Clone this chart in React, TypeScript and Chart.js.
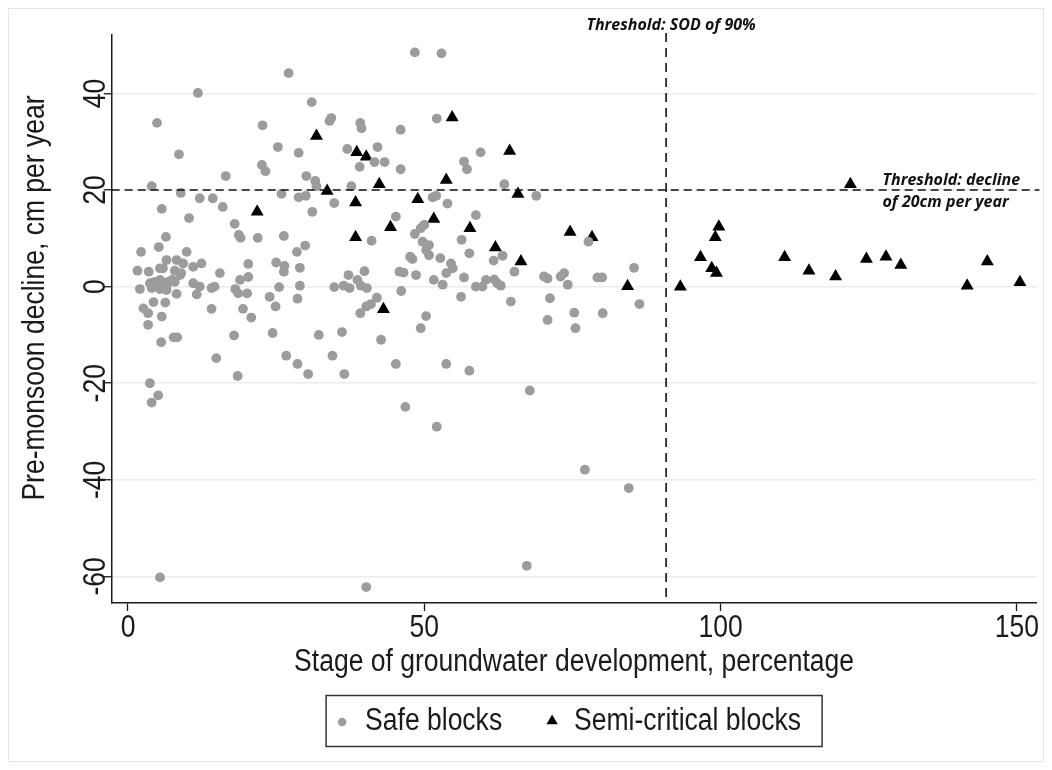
import React, { useEffect, useRef } from 'react';
import { Chart, registerables } from 'chart.js';

Chart.register(...registerables);

// [stage of groundwater development %, pre-monsoon decline cm/yr]
const safeBlocks: [number, number][] = [
  [48.4, 48.5], [52.9, 48.3], [27.1, 44.2], [11.8, 40.1], [31.0, 38.2], [4.9, 33.9], [22.7, 33.4], [34.0, 34.3],
  [34.3, 34.9], [39.2, 33.9], [39.4, 32.8], [46.0, 32.5], [52.1, 34.8], [25.3, 28.9], [28.8, 27.7], [8.6, 27.4],
  [37.0, 28.5], [42.1, 28.9], [41.6, 25.8], [43.3, 25.8], [39.1, 24.8], [46.0, 24.3], [22.6, 25.2], [23.2, 23.9],
  [56.7, 25.9], [57.2, 24.3], [59.5, 27.8], [16.5, 22.9], [30.1, 22.9], [31.6, 21.9], [31.8, 20.8], [4.0, 20.8],
  [37.7, 20.8], [63.5, 21.2], [8.9, 19.4], [12.1, 18.3], [14.3, 18.3], [25.9, 19.2], [28.8, 18.5], [30.0, 18.8],
  [34.8, 17.3], [68.9, 18.8], [51.4, 18.5], [52.0, 18.8], [53.9, 17.2], [16.0, 16.5], [5.7, 16.1], [31.1, 15.5],
  [10.3, 14.2], [58.7, 14.8], [45.2, 14.5], [18.0, 13.0], [18.7, 10.7], [19.0, 10.1], [21.9, 10.1], [26.3, 10.5],
  [6.4, 10.3], [5.2, 8.2], [2.2, 7.2], [9.9, 7.2], [28.5, 7.2], [29.9, 8.5], [41.1, 9.5], [48.4, 10.9],
  [49.4, 12.1], [50.0, 12.8], [49.7, 9.3], [50.8, 8.6], [50.3, 7.6], [50.8, 6.5], [47.6, 6.2], [48.0, 5.7],
  [52.7, 5.9], [54.5, 4.8], [54.8, 3.8], [56.3, 9.7], [57.6, 6.9], [61.7, 5.4], [63.2, 6.4], [65.2, 3.1],
  [77.7, 9.3], [85.4, 3.9], [46.5, 2.9], [37.2, 2.4], [39.9, 3.2], [38.7, 1.4], [39.3, 0.2], [40.3, -0.3],
  [34.8, -0.1], [36.4, 0.2], [37.4, -0.3], [25.0, 5.0], [26.4, 4.3], [26.3, 3.1], [29.0, 3.9], [25.5, -0.1],
  [29.0, 0.2], [23.9, -2.1], [24.9, -4.1], [28.6, -2.5], [46.1, -0.9], [42.0, -2.3], [41.0, -3.6], [40.2, -4.1],
  [39.2, -5.5], [48.6, 2.4], [51.6, 1.4], [53.1, 0.4], [53.7, 2.8], [56.7, 1.9], [58.7, 0.0], [59.8, 0.0],
  [60.4, 1.4], [61.8, 1.5], [62.3, 0.7], [62.9, 0.2], [56.2, -2.1], [64.6, -3.1], [70.2, 2.1], [70.8, 1.7],
  [73.6, 2.8], [73.0, 2.1], [74.2, 0.4], [79.2, 1.9], [80.0, 1.9], [71.2, -2.4], [70.8, -6.9], [75.3, -5.4],
  [80.1, -5.5], [75.5, -8.6], [86.3, -3.6], [50.3, -6.1], [49.4, -8.6], [42.7, -11.0], [45.2, -16.0], [46.8, -24.9],
  [52.1, -29.0], [53.7, -16.0], [57.6, -17.4], [67.8, -21.5], [67.3, -57.8], [77.1, -37.9], [84.5, -41.7], [40.2, -62.2],
  [5.4, -60.2], [2.0, -0.5], [4.3, -3.2], [6.3, -3.3], [8.2, -1.5], [2.6, -4.5], [3.4, -5.5], [3.4, -7.9],
  [5.7, -6.2], [5.6, -11.5], [7.7, -10.5], [8.3, -10.5], [14.1, -4.6], [14.9, -14.8], [17.9, -10.1], [18.5, -18.5],
  [19.4, -4.6], [20.8, -6.4], [24.4, -9.6], [26.7, -14.3], [28.6, -16.0], [30.4, -18.1], [32.2, -10.0], [34.5, -14.3],
  [36.1, -9.4], [36.5, -18.1], [3.7, -20.0], [5.1, -22.5], [4.0, -24.0], [1.6, 3.3], [3.5, 3.1], [3.7, 0.7],
  [4.8, 0.7], [5.4, 1.4], [6.5, 5.5], [8.2, 5.5], [9.3, 4.8], [5.9, 3.8], [5.4, 3.8], [8.8, 2.4],
  [11.0, 4.1], [12.4, 4.8], [11.0, 0.7], [12.1, 0.0], [11.6, -1.6], [6.5, 0.0], [7.4, 1.4], [14.6, 0.0],
  [14.1, -0.3], [15.5, 2.8], [18.1, -0.5], [18.6, -1.4], [18.9, 1.4], [20.3, 2.0], [20.1, -1.4], [20.3, 4.7],
  [45.8, 3.1], [7.9, 3.3], [9.0, 2.8], [4.5, 1.0], [5.7, 1.0], [6.8, 1.0], [7.9, 1.0], [4.0, -0.3],
  [5.4, -0.5], [6.5, -0.7],
];

const semiCriticalBlocks: [number, number][] = [
  [21.8, 15.5], [31.8, 31.2], [38.6, 27.8], [40.2, 26.9], [33.6, 19.8], [42.4, 21.2], [38.4, 17.4], [38.4, 10.2],
  [44.3, 12.3], [43.1, -4.7], [54.7, 35.0], [64.4, 28.1], [53.7, 22.1], [65.8, 19.2], [48.9, 18.1], [51.6, 14.0],
  [57.7, 12.1], [62.0, 8.1], [66.3, 5.2], [74.6, 11.3], [78.3, 10.2], [84.3, 0.1], [93.2, 0.0], [96.6, 6.1],
  [98.5, 3.8], [99.3, 2.8], [99.1, 10.2], [99.7, 12.4], [110.8, 6.1], [114.9, 3.3], [119.4, 2.1], [121.9, 21.2],
  [124.6, 5.7], [127.9, 6.2], [130.4, 4.5], [141.6, 0.2], [145.0, 5.2], [150.5, 0.9],
];

const xTicks = [0, 50, 100, 150];
const yTicks = [-60, -40, -20, 0, 20, 40];
const sodThreshold = 90.8;
const declineThreshold = 20;

const xTitle = 'Stage of groundwater development, percentage';
const yTitle = 'Pre-monsoon decline, cm per year';
const legendLabels = ['Safe blocks', 'Semi-critical blocks'];
const sodLabel = 'Threshold: SOD of 90%';
const declineLabel = ['Threshold: decline', 'of 20cm per year'];

const SANS = '"Liberation Sans", Arial, sans-serif';
const NOTE = '"Open Sans", "Lato", sans-serif';
const SAFE_COLOR = '#9c9c9c';
const INK = '#1a1a1a';
const FONT_PX = 31;
const X_TITLE_WIDTH = 560; // condensed look: squeeze text horizontally to this width

function narrowText(ctx: CanvasRenderingContext2D, text: string, x: number, y: number, sx: number, align: CanvasTextAlign, rot = 0) {
  ctx.save();
  ctx.translate(x, y);
  if (rot) ctx.rotate(rot);
  ctx.scale(sx, 1);
  ctx.textAlign = align;
  ctx.fillText(text, 0, 0);
  ctx.restore();
}

const decor = {
  id: 'decor',
  beforeDraw(chart: any) {
    const { ctx, width, height } = chart;
    ctx.save();
    ctx.fillStyle = '#ffffff';
    ctx.fillRect(0, 0, width, height);
    ctx.strokeStyle = '#e4e4e4';
    ctx.lineWidth = 1;
    ctx.strokeRect(0.5, 0.5, width - 1, height - 1);
    ctx.restore();
  },
  afterDatasetsDraw(chart: any) {
    const { ctx, chartArea, scales } = chart;
    const x = scales.x;
    const y = scales.y;
    ctx.save();
    ctx.strokeStyle = '#111';
    ctx.lineWidth = 1.6;
    const yy = y.getPixelForValue(declineThreshold);
    ctx.setLineDash([8, 5]);
    ctx.beginPath();
    ctx.moveTo(chartArea.left, yy);
    ctx.lineTo(chartArea.right + 3, yy);
    ctx.stroke();
    const xx = x.getPixelForValue(sodThreshold);
    ctx.setLineDash([9, 6]);
    ctx.beginPath();
    ctx.moveTo(xx, chartArea.top - 2);
    ctx.lineTo(xx, chartArea.bottom);
    ctx.stroke();
    ctx.setLineDash([]);
    ctx.fillStyle = '#111';
    ctx.font = `italic bold 16px ${NOTE}`;
    ctx.textBaseline = 'middle';
    ctx.textAlign = 'center';
    ctx.fillText(sodLabel, xx + 5, 17);
    ctx.textAlign = 'left';
    ctx.fillText(declineLabel[0], chartArea.right - 154, yy - 9.5);
    ctx.fillText(declineLabel[1], chartArea.right - 154, yy + 12.5);
    ctx.restore();
  },
  afterDraw(chart: any) {
    const { ctx, chartArea, scales } = chart;
    ctx.save();
    ctx.fillStyle = INK;
    ctx.font = `${FONT_PX}px ${SANS}`;
    ctx.textBaseline = 'alphabetic';
    const sx = X_TITLE_WIDTH / ctx.measureText(xTitle).width;

    // tick labels from the scales
    for (const t of scales.x.ticks) {
      narrowText(ctx, String(t.value), scales.x.getPixelForValue(t.value), 629, sx, 'center');
    }
    for (const t of scales.y.ticks) {
      narrowText(ctx, String(t.value), 97, scales.y.getPixelForValue(t.value), sx, 'center', -Math.PI / 2);
    }

    // axis titles
    narrowText(ctx, xTitle, (chartArea.left + chartArea.right) / 2, 663, sx, 'center');
    narrowText(ctx, yTitle, 36, 290, sx, 'center', -Math.PI / 2);

    // legend
    const cx = (chartArea.left + chartArea.right) / 2;
    const bw = 496;
    const bx = cx - bw / 2;
    ctx.strokeStyle = '#333';
    ctx.lineWidth = 1.5;
    ctx.strokeRect(bx, 687.5, bw, 51);
    ctx.fillStyle = SAFE_COLOR;
    ctx.beginPath();
    ctx.arc(bx + 16, 714, 4.3, 0, Math.PI * 2);
    ctx.fill();
    ctx.fillStyle = INK;
    narrowText(ctx, legendLabels[0], bx + 39, 722, sx, 'left');
    const tx = bx + 226;
    const ty = 713;
    const r = 6.5;
    ctx.fillStyle = '#000';
    ctx.beginPath();
    ctx.moveTo(tx, ty - r);
    ctx.lineTo(tx + r * 0.866, ty + r / 2);
    ctx.lineTo(tx - r * 0.866, ty + r / 2);
    ctx.closePath();
    ctx.fill();
    ctx.fillStyle = INK;
    narrowText(ctx, legendLabels[1], bx + 248, 722, sx, 'left');
    ctx.restore();
  },
};

export default function App() {
  const ref = useRef<HTMLCanvasElement>(null);
  useEffect(() => {
    if (!ref.current) return;
    const chart = new Chart(ref.current, {
      type: 'scatter',
      data: {
        datasets: [
          {
            label: legendLabels[0],
            data: safeBlocks.map(([x, y]) => ({ x, y })),
            pointStyle: 'circle',
            pointRadius: 4.9,
            backgroundColor: SAFE_COLOR,
            borderWidth: 0,
          },
          {
            label: legendLabels[1],
            data: semiCriticalBlocks.map(([x, y]) => ({ x, y })),
            pointStyle: 'triangle',
            pointRadius: 7.5,
            backgroundColor: '#000',
            borderWidth: 0,
          },
        ],
      },
      options: {
        responsive: false,
        animation: false,
        events: [],
        layout: { padding: { left: 0, top: 27, right: 7, bottom: 0 } },
        plugins: { legend: { display: false }, tooltip: { enabled: false } },
        scales: {
          x: {
            type: 'linear',
            min: -2.75,
            max: 153.3,
            afterBuildTicks: (s: any) => {
              s.ticks = xTicks.map((value) => ({ value }));
            },
            afterFit: (s: any) => {
              s.height = 159;
            },
            grid: { drawOnChartArea: false, drawTicks: true, tickLength: 8, tickColor: INK, tickWidth: 1.3 },
            border: { color: INK, width: 1.5 },
            ticks: { display: false, autoSkip: false, maxRotation: 0 },
          },
          y: {
            type: 'linear',
            min: -65.5,
            max: 52.1,
            afterBuildTicks: (s: any) => {
              s.ticks = yTicks.map((value) => ({ value }));
            },
            afterFit: (s: any) => {
              s.width = 103.7;
            },
            grid: { color: '#ececec', lineWidth: 1.5, tickLength: 8, tickColor: INK, tickWidth: 1.3 },
            border: { color: INK, width: 1.5 },
            ticks: { display: false, autoSkip: false },
          },
        },
      },
      plugins: [decor],
    } as any);
    return () => chart.destroy();
  }, []);

  return (
    <div style={{ width: 1036, height: 754 }}>
      <canvas ref={ref} width={1036} height={754} style={{ display: 'block' }} />
    </div>
  );
}
